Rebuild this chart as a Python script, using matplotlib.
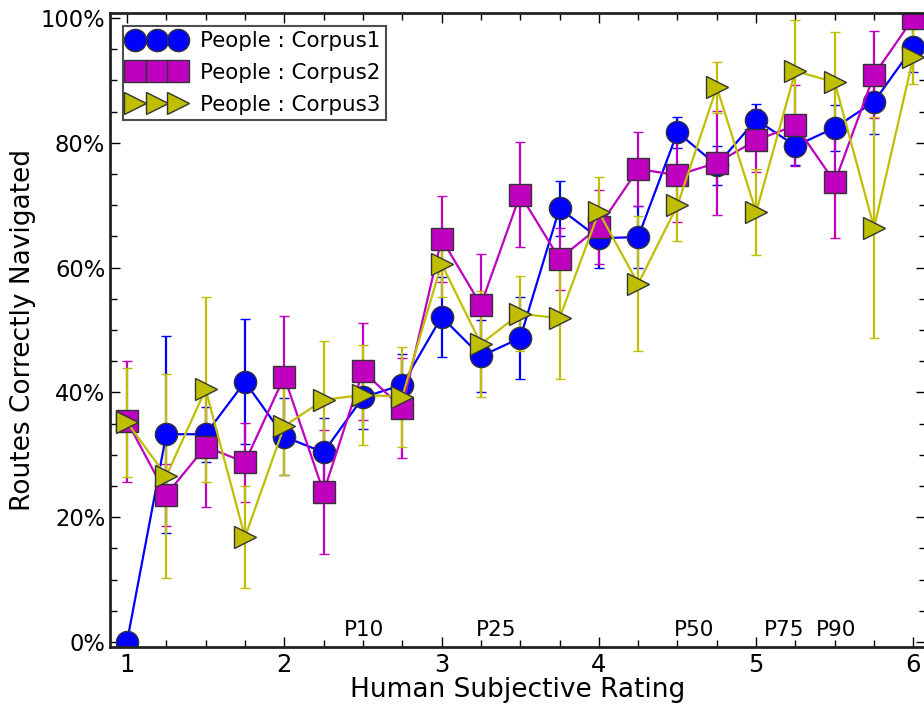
import matplotlib
matplotlib.use('agg')
import matplotlib.pyplot as plt
from matplotlib.lines import Line2D
from matplotlib.ticker import MultipleLocator, FuncFormatter

plt.rcParams['font.family'] = ['DejaVu Sans']

ratings = [1.0, 1.25, 1.5, 1.75, 2.0, 2.25, 2.5, 2.75, 3.0, 3.25, 3.5,
           3.75, 4.0, 4.25, 4.5, 4.75, 5.0, 5.25, 5.5, 5.75, 6.0]

corpus1 = [0.000, 0.333, 0.333, 0.417, 0.329, 0.304, 0.392, 0.412, 0.521, 0.458, 0.487,
           0.695, 0.647, 0.649, 0.817, 0.764, 0.837, 0.795, 0.824, 0.866, 0.954]
corpus1_err = [0.000, 0.158, 0.044, 0.100, 0.062, 0.055, 0.050, 0.050, 0.064, 0.058, 0.066,
               0.044, 0.047, 0.050, 0.025, 0.031, 0.025, 0.030, 0.037, 0.052, 0.040]

corpus2 = [0.354, 0.236, 0.313, 0.288, 0.425, 0.240, 0.434, 0.375, 0.646, 0.540, 0.717,
           0.614, 0.665, 0.758, 0.748, 0.768, 0.804, 0.828, 0.737, 0.909, 1.000]
corpus2_err = [0.097, 0.050, 0.097, 0.063, 0.098, 0.099, 0.078, 0.080, 0.069, 0.082, 0.084,
               0.050, 0.060, 0.060, 0.075, 0.083, 0.050, 0.065, 0.090, 0.070, 0.000]

corpus3 = [0.352, 0.266, 0.405, 0.168, 0.346, 0.388, 0.396, 0.393, 0.606, 0.478, 0.526,
           0.519, 0.689, 0.574, 0.700, 0.889, 0.689, 0.915, 0.897, 0.664, 0.938]
corpus3_err = [0.087, 0.163, 0.148, 0.082, 0.078, 0.095, 0.080, 0.080, 0.053, 0.085, 0.060,
               0.098, 0.056, 0.108, 0.057, 0.041, 0.069, 0.082, 0.080, 0.177, 0.044]

percentile_names = ['P10', 'P25', 'P50', 'P75', 'P90']
percentile_pos = [2.38, 3.22, 4.48, 5.05, 5.38]

series = [
    ('People : Corpus1', corpus1, corpus1_err, 'o', (0.0, 0.0, 1.0)),
    ('People : Corpus2', corpus2, corpus2_err, 's', (0.75, 0.0, 0.75)),
    ('People : Corpus3', corpus3, corpus3_err, '>', (0.75, 0.75, 0.0)),
]

fig = plt.figure(figsize=(9.24, 7.09), dpi=100)
ax = fig.add_axes([110 / 924, 62 / 709, 816 / 924, 634 / 709])

handles = []
for label, ys, err, marker, color in series:
    ax.errorbar(ratings, ys, yerr=err, color=color, marker=marker, markersize=16,
                markeredgecolor='#333333', markeredgewidth=1.0, linewidth=1.6,
                elinewidth=1.6, capsize=3.5, capthick=1.2)
    handles.append(Line2D([], [], linestyle='none', marker=marker, markersize=16,
                          color=color, markeredgecolor='#333333',
                          markeredgewidth=1.0, label=label))

for name, pos in zip(percentile_names, percentile_pos):
    ax.text(pos, 0.003, name, ha='left', va='bottom', fontsize=15.5)

ax.set_xlim(0.892, 6.08)
ax.set_ylim(-0.008, 1.008)
ax.xaxis.set_major_locator(MultipleLocator(1))
ax.xaxis.set_minor_locator(MultipleLocator(0.25))
ax.yaxis.set_major_locator(MultipleLocator(0.2))
ax.yaxis.set_minor_locator(MultipleLocator(0.05))
ax.yaxis.set_major_formatter(FuncFormatter(lambda v, p: '%d%%' % round(v * 100)))
ax.tick_params(which='both', direction='in', top=True, right=True)
ax.tick_params(which='major', length=7, width=1.0, labelsize=16.3)
ax.tick_params(which='minor', length=5, width=1.0)
ax.tick_params(axis='x', which='major', labelsize=17.5, pad=4)
for s in ax.spines.values():
    s.set_linewidth(2.0)
    s.set_color('#222222')

ax.set_xlabel('Human Subjective Rating', fontsize=19, labelpad=0)
ax.set_ylabel('Routes Correctly Navigated', fontsize=19, labelpad=3)

leg = ax.legend(handles=handles, loc='upper left', numpoints=3, fancybox=False,
                fontsize=15.4, borderaxespad=0.6, handletextpad=0.7, borderpad=0.25,
                labelspacing=0.55, handlelength=2.65)
leg.get_frame().set_edgecolor('#222222')
leg.get_frame().set_linewidth(1.5)

fig.savefig('out.png', dpi=100)
